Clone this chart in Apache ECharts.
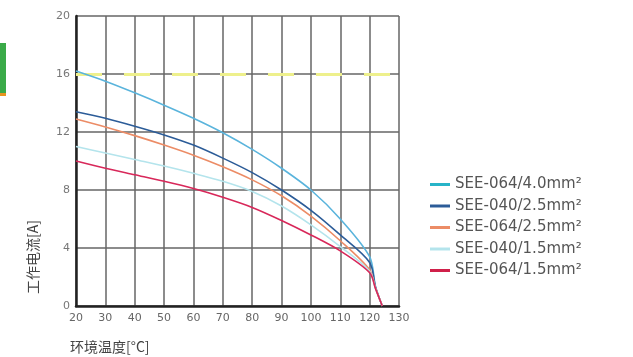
<!DOCTYPE html>
<html>
<head>
<meta charset="utf-8">
<script src="https://cdn.jsdelivr.net/npm/echarts@6/dist/echarts.min.js"></script>
<style>html,body{margin:0;padding:0;background:#fff;}#c{width:633px;height:357px;}</style>
</head>
<body>
<div id="c"></div>
<script>
var temps = [20, 30, 40, 50, 60, 70, 80, 90, 100, 110, 120, 122, 124.3];
var seriesNames = ['SEE-064/4.0mm²', 'SEE-040/2.5mm²', 'SEE-064/2.5mm²', 'SEE-040/1.5mm²', 'SEE-064/1.5mm²'];
var s064_40 = [16.2, 15.5, 14.7, 13.85, 12.95, 11.95, 10.8, 9.5, 8.0, 6.0, 3.4, 1.35, 0];
var s040_25 = [13.4, 12.95, 12.4, 11.8, 11.1, 10.2, 9.2, 8.0, 6.6, 4.9, 3.0, 1.3, 0];
var s064_25 = [12.9, 12.35, 11.75, 11.1, 10.4, 9.6, 8.7, 7.6, 6.2, 4.5, 2.5, 1.25, 0];
var s040_15 = [11.0, 10.55, 10.1, 9.65, 9.15, 8.6, 7.9, 6.9, 5.6, 4.1, 2.4, 1.2, 0];
var s064_15 = [10.0, 9.5, 9.05, 8.6, 8.1, 7.5, 6.8, 5.9, 4.9, 3.8, 2.3, 1.2, 0];
var xTicks = [20, 30, 40, 50, 60, 70, 80, 90, 100, 110, 120, 130];
var yTicks = [0, 4, 8, 12, 16, 20];
var refLine = 16;
var xTitle = '环境温度[°C]';
var yTitle = '工作电流[A]';

var colors = ['#5ab4dc', '#2c5c98', '#ec8c66', '#b4e4ec', '#d8285a'];
var legendColors = ['#28b4c8', '#2c5c98', '#ec8c66', '#b4e4ec', '#d0204a'];
var allData = [s064_40, s040_25, s064_25, s040_15, s064_15];

function pairs(arr) { return temps.map(function (t, i) { return [t, arr[i]]; }); }

var series = allData.map(function (arr, k) {
  var s = {
    name: seriesNames[k],
    type: 'line',
    smooth: 0.3,
    symbol: 'none',
    data: pairs(arr),
    lineStyle: { color: colors[k], width: 1.6 },
    itemStyle: { color: legendColors[k] },
    z: 3
  };
  if (k === 0) {
    s.markLine = {
      silent: true, symbol: 'none', label: { show: false },
      lineStyle: { color: '#eef08c', type: [26, 22], width: 3 },
      data: [{ yAxis: refLine }],
      z: 2
    };
  }
  return s;
});

var chart = echarts.init(document.getElementById('c'), null, { renderer: 'canvas' });
chart.setOption({
  backgroundColor: '#fff',
  animation: false,
  grid: { left: 76, right: 234, top: 16, bottom: 51, containLabel: false },
  xAxis: {
    type: 'value', min: xTicks[0], max: xTicks[xTicks.length - 1], interval: 10,
    axisLine: { show: true, onZero: false, lineStyle: { color: '#222', width: 2.5 } },
    axisTick: { show: false },
    axisLabel: { color: '#666', fontSize: 11, margin: 7, fontFamily: 'DejaVu Sans' },
    splitLine: { show: true, lineStyle: { color: '#666', width: 1.5 } }
  },
  yAxis: {
    type: 'value', min: yTicks[0], max: yTicks[yTicks.length - 1], interval: 4,
    axisLine: { show: true, onZero: false, lineStyle: { color: '#222', width: 2.5 } },
    axisTick: { show: false },
    axisLabel: { color: '#777', fontSize: 11, margin: 6, fontFamily: 'DejaVu Sans' },
    splitLine: { show: true, lineStyle: { color: '#666', width: 1.5 } }
  },
  legend: {
    orient: 'vertical', left: 425, top: 172,
    itemWidth: 20, itemHeight: 3, itemGap: 6.5,
    icon: 'rect',
    textStyle: { color: '#555', fontSize: 15, fontFamily: 'DejaVu Sans' },
    data: seriesNames.map(function (n, k) { return { name: n, itemStyle: { color: legendColors[k] } }; })
  },
  graphic: [
    { type: 'rect', shape: { x: 0, y: 43, width: 6, height: 50 }, style: { fill: '#3aaa48' } },
    { type: 'rect', shape: { x: 0, y: 93, width: 6, height: 3 }, style: { fill: '#e8941e' } },
    { type: 'text', x: 70, y: 347, style: { text: xTitle, fill: '#444', font: '14px "Noto Sans CJK SC"', textVerticalAlign: 'middle' } },
    { type: 'text', x: 33, y: 257, rotation: Math.PI / 2, style: { text: yTitle, fill: '#444', font: '14px "Noto Sans CJK SC"', textAlign: 'center', textVerticalAlign: 'middle' } }
  ],
  series: series
});
</script>
</body>
</html>
